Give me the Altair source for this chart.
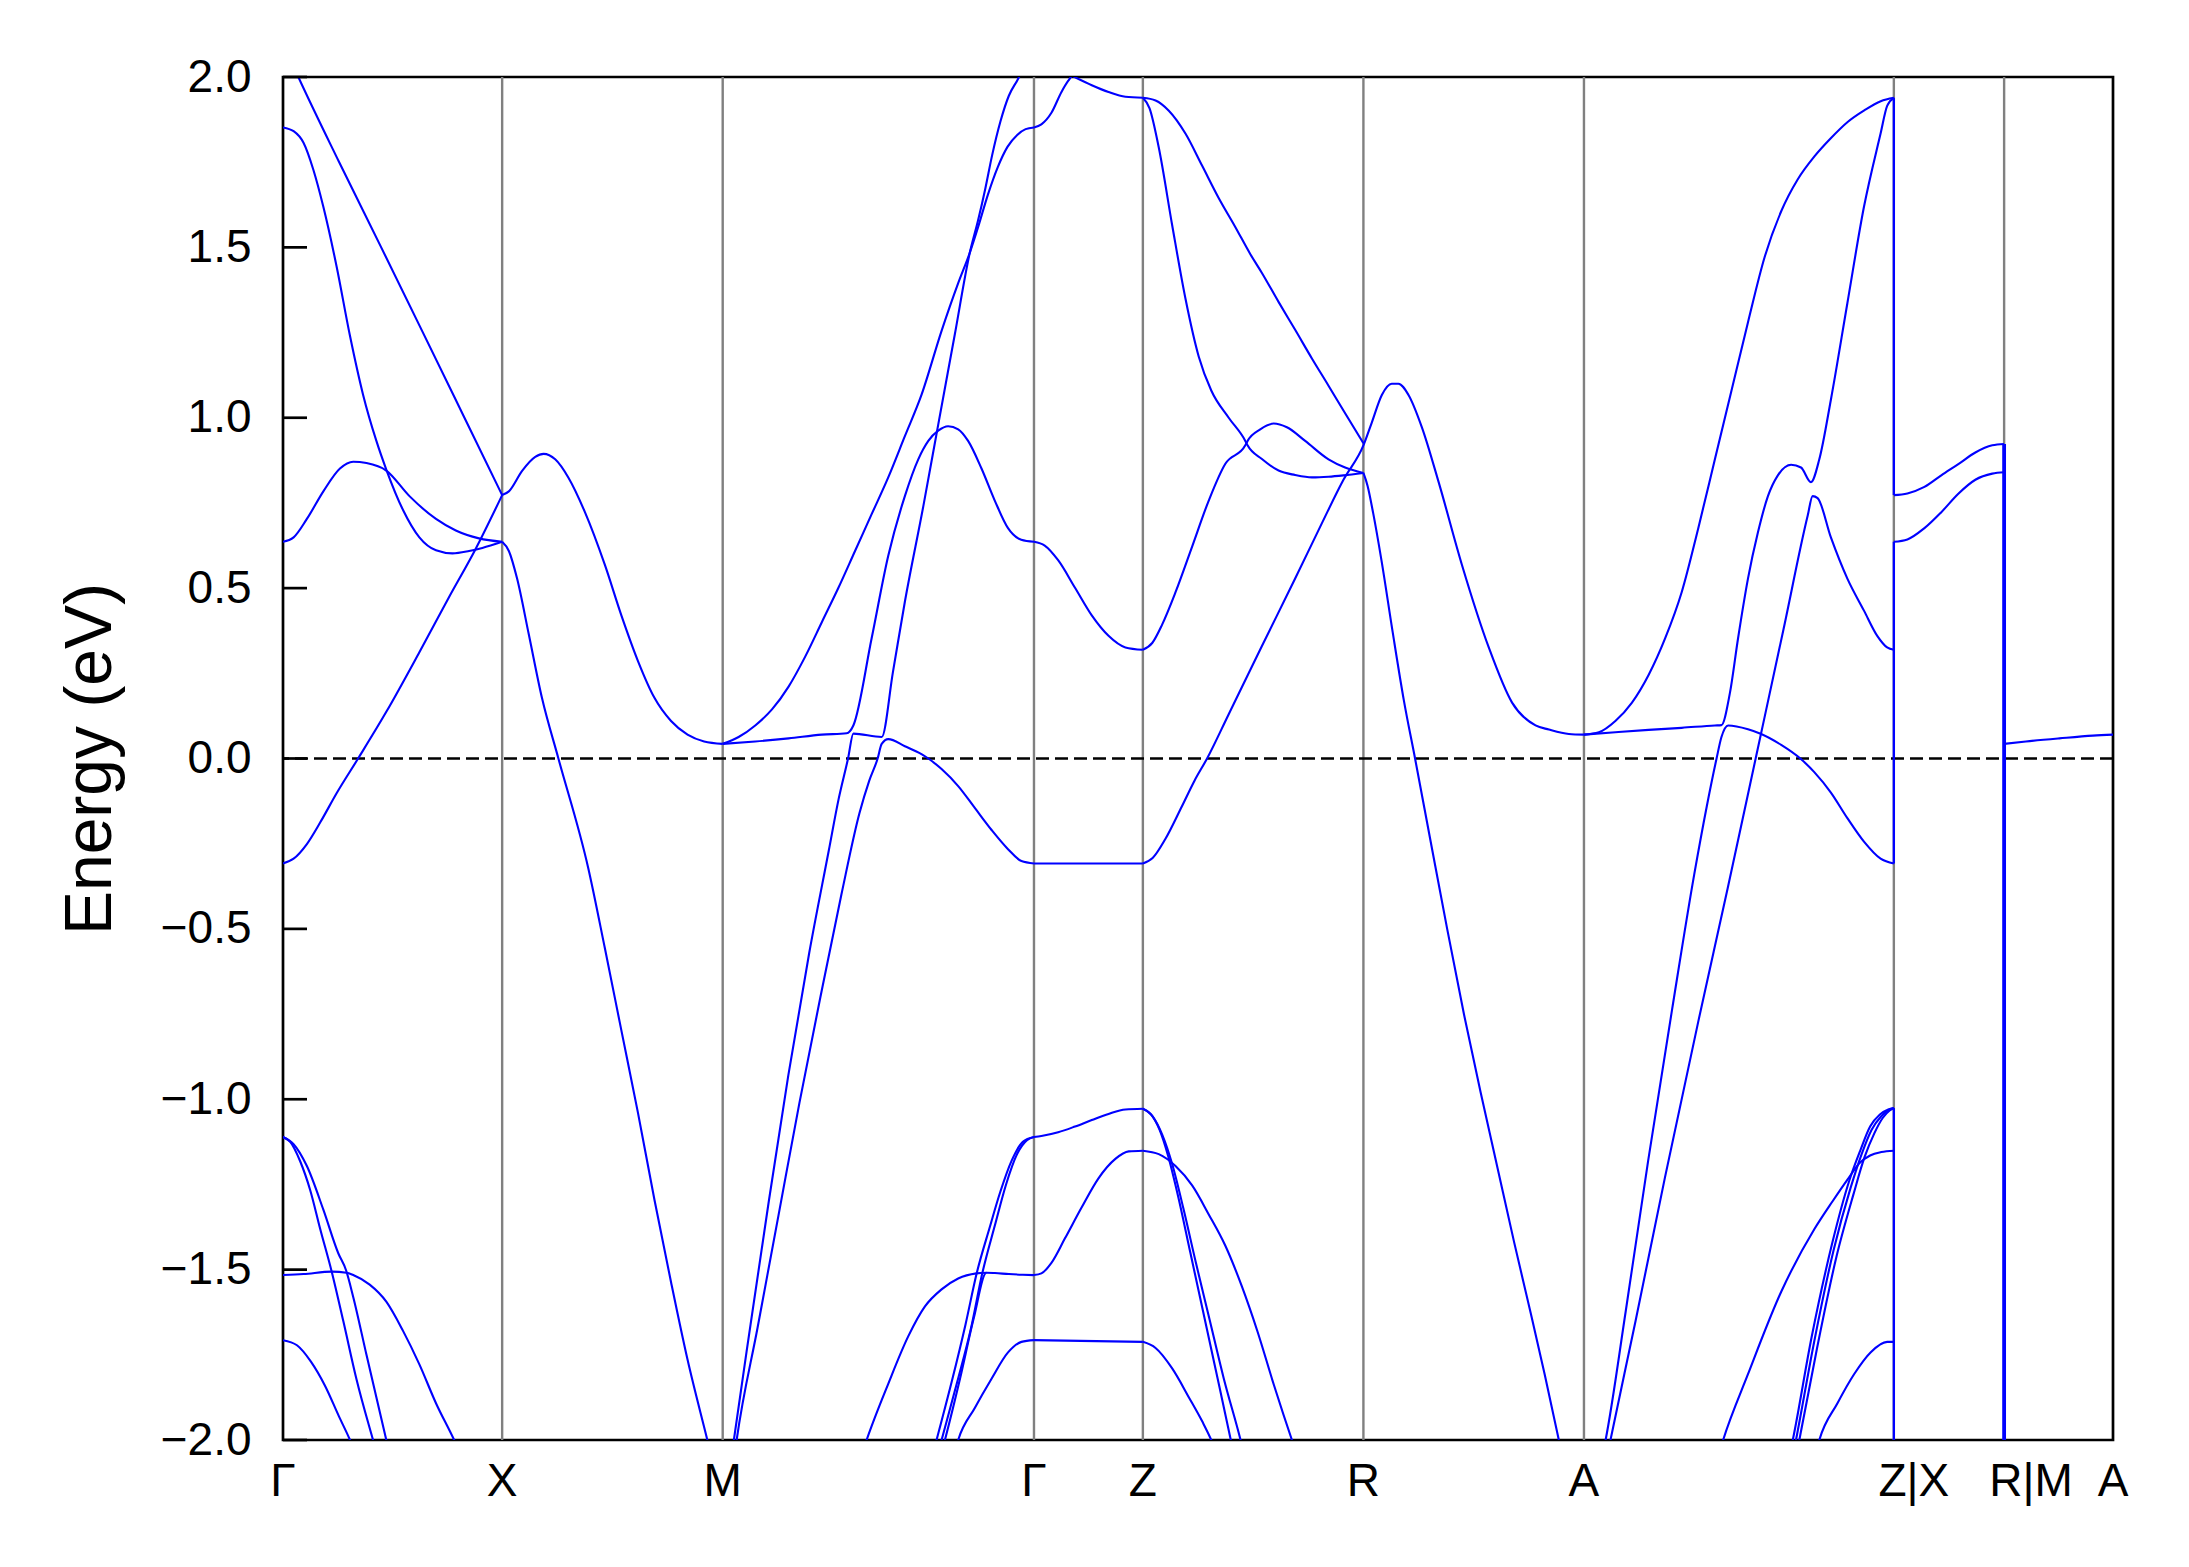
import altair as alt
import pandas as pd

# ---------------- path / axis values ----------------
sym_k = [0, 157, 315, 538, 616, 774, 932, 1154, 1233, 1311]
sym_lab = ["Γ", "X", "M", "Γ", "Z", "R", "A", "Z|X", "R|M", "A"]
y_ticks = [-2.0, -1.5, -1.0, -0.5, 0.0, 0.5, 1.0, 1.5, 2.0]
e_fermi = [0.0]

# ---------------- bands (k, E in eV) ----------------
# Γ -> X
gx_a = [(0, 2.10), (11, 2.0), (40, 1.752), (70, 1.503), (100, 1.252), (130, 1.0), (157, 0.773)]
gx_b = [(0, 1.852), (7.6, 1.841), (14.7, 1.807), (21.8, 1.727), (28.9, 1.619), (38.4, 1.444), (47.9, 1.242),
        (57.4, 1.067), (66.9, 0.932), (74, 0.848), (85.9, 0.730), (97.7, 0.649), (109.6, 0.611), (121.4, 0.602),
        (133.3, 0.609), (142.8, 0.618), (157, 0.636)]
gx_c = [(0, 0.636), (7.6, 0.649), (17.1, 0.703), (28.9, 0.784), (40.8, 0.851), (50.3, 0.871), (59.8, 0.867),
        (74, 0.845), (90.6, 0.770), (109.6, 0.703), (123.8, 0.669), (140.4, 0.646), (157, 0.636)]
gx_d = [(0, -0.308), (7.6, -0.294), (17.1, -0.251), (26.6, -0.188), (38.4, -0.102), (53.8, 0.0), (74, 0.137),
        (97.7, 0.312), (119, 0.474), (138, 0.615), (157, 0.773)]
gx_e = [(0, -1.111), (5.2, -1.125), (12.3, -1.182), (19.5, -1.267), (26.6, -1.38), (34.9, -1.506), (43.2, -1.651),
        (52.6, -1.821), (64.5, -2.0), (70, -2.08)]
gx_f = [(0, -1.111), (7.6, -1.132), (17.1, -1.196), (28.9, -1.324), (39.6, -1.452), (45.1, -1.501), (50.3, -1.58),
        (59.8, -1.75), (74.0, -2.0), (78, -2.07)]
gx_g = [(0, -1.516), (14.7, -1.513), (34.9, -1.506), (45.5, -1.509), (50.3, -1.516), (62.1, -1.544), (74.0, -1.594),
        (85.9, -1.679), (97.7, -1.778), (109.6, -1.892), (122.6, -2.0), (127, -2.04)]
gx_h = [(0, -1.707), (10, -1.722), (20, -1.77), (30, -1.84), (40, -1.93), (48, -2.0), (52, -2.04)]
# X -> M
xm_a = [(157, 0.773), (161.8, 0.784), (171.3, 0.844), (180.7, 0.885), (186.7, 0.894), (195, 0.878), (204.5, 0.824),
        (216.3, 0.723), (230.6, 0.568), (242.4, 0.420), (254.3, 0.286), (266.1, 0.178), (278, 0.110), (289.8, 0.070),
        (301.7, 0.050), (315, 0.043)]
xm_b = [(157, 0.636), (161.8, 0.609), (167.7, 0.528), (176, 0.366), (185.5, 0.178), (197.3, 0.0), (218.7, -0.322),
        (230.6, -0.557), (242.4, -0.798), (254.3, -1.040), (266.1, -1.295), (278, -1.537), (289.8, -1.764),
        (304, -2.0), (307, -2.05)]
# M -> Γ
mg_a = [(315, 0.043), (326.4, 0.063), (338.3, 0.097), (350.3, 0.144), (362.2, 0.211), (374.1, 0.299), (386, 0.400),
        (397.9, 0.501), (409.8, 0.609), (421.7, 0.717), (433.6, 0.825), (445.5, 0.946), (457.4, 1.067),
        (471.8, 1.255), (483.7, 1.395), (492, 1.484), (498, 1.56), (505, 1.655), (512, 1.735), (519, 1.795),
        (526, 1.83), (532, 1.847), (538, 1.852)]
mg_b = [(315, 0.043), (338.3, 0.050), (362.2, 0.059), (386, 0.070), (403.8, 0.074), (408.6, 0.097), (421.7, 0.353),
        (433.6, 0.595), (445.5, 0.770), (455.1, 0.878), (462.3, 0.932), (469.4, 0.962), (476.5, 0.975),
        (483.7, 0.966), (490.8, 0.932), (500.4, 0.851), (509.9, 0.757), (519.4, 0.676), (528.9, 0.642), (538, 0.636)]
mg_c = [(321, -2.06), (323, -2.0), (335, -1.66), (348, -1.30), (362, -0.93), (377, -0.57), (391, -0.27), (398, -0.12),
        (404.8, 0.0), (408.6, 0.073), (428.9, 0.063), (437, 0.255), (445.5, 0.46), (458.7, 0.74), (469.4, 0.98),
        (481.3, 1.245), (492, 1.484), (498, 1.58), (503, 1.67), (508, 1.77), (514, 1.87), (520, 1.945), (526, 1.99),
        (530, 2.02), (534, 2.05)]
mg_d = [(323, -2.06), (325, -2.0), (340, -1.67), (355, -1.34), (370, -1.01), (385, -0.70), (400, -0.40), (413, -0.16),
        (420, -0.065), (426, 0.0), (428.9, 0.043), (433.6, 0.057), (445.5, 0.036), (457.4, 0.013), (462.3, 0.0),
        (471.8, -0.031), (483.7, -0.081), (495.6, -0.145), (507.5, -0.209), (519.4, -0.266), (529, -0.301),
        (538, -0.308)]
mg_e = [(414, -2.05), (418.1, -2.0), (433.6, -1.835), (447.9, -1.696), (459.9, -1.608), (471.8, -1.558),
        (483.7, -1.526), (496.8, -1.511), (503.9, -1.509)]
mg_f = [(465, -2.05), (468.2, -2.0), (479, -1.83), (489, -1.66), (497, -1.51), (506, -1.38), (514, -1.27),
        (522, -1.18), (530, -1.125), (538, -1.111)]
mg_g = [(468.5, -2.05), (471.8, -2.0), (483, -1.83), (493, -1.67), (501, -1.51), (510, -1.37), (518, -1.25),
        (526, -1.16), (533, -1.12), (538, -1.111)]
mg_h = [(471, -2.05), (474.2, -2.0), (485, -1.82), (495, -1.64), (503.9, -1.509), (510, -1.510), (520, -1.513),
        (530, -1.515), (538, -1.516)]
mg_i = [(481, -2.04), (483.7, -2.0), (495.6, -1.906), (507.5, -1.821), (519.4, -1.743), (529, -1.712), (538, -1.707)]
# Γ -> Z
gz_a = [(538, 1.852), (543.3, 1.861), (550.5, 1.895), (557.7, 1.956), (562.6, 1.989), (565.5, 2.003), (567, 2.0),
        (579.4, 1.976), (591.4, 1.956), (603.5, 1.942), (616, 1.939)]
gz_b = [(538, 0.636), (545.7, 0.625), (555.3, 0.582), (567.4, 0.501), (579.4, 0.420), (591.4, 0.360),
        (603.5, 0.326), (616, 0.319)]
gz_c = [(538, -0.308), (616, -0.308)]
gz_d = [(538, -1.111), (543.3, -1.108), (555.3, -1.097), (567.4, -1.080), (579.4, -1.061), (591.4, -1.043),
        (603.5, -1.030), (616, -1.028)]
gz_e = [(538, -1.516), (543.3, -1.511), (550.5, -1.480), (560.1, -1.409), (572.2, -1.317), (584.2, -1.232),
        (596.3, -1.175), (605.9, -1.153), (616, -1.151)]
gz_f = [(538, -1.707), (616, -1.712)]
# Z -> R
zr_a = [(616, 1.939), (625.1, 1.931), (634.6, 1.901), (646.5, 1.834), (658.4, 1.740), (670.3, 1.645), (682.2, 1.56),
        (693, 1.48), (701.3, 1.425), (713.2, 1.34), (725.1, 1.258), (737.1, 1.174), (749, 1.094), (760.9, 1.013),
        (774, 0.925)]
zr_b = [(616, 1.939), (620.8, 1.908), (627.4, 1.793), (637, 1.565), (646.5, 1.350), (656, 1.18), (665, 1.08),
        (677.5, 1.0), (689.4, 0.932), (691, 0.919), (701.3, 0.879), (713.2, 0.845), (725.1, 0.832), (737.1, 0.825),
        (749, 0.827), (759.7, 0.831), (774, 0.838)]
zr_c = [(616, 0.319), (622.7, 0.339), (629.8, 0.393), (639.4, 0.488), (651.3, 0.622), (663.2, 0.757), (675.1, 0.865),
        (689.4, 0.919), (691, 0.932), (700.1, 0.966), (709.7, 0.983), (719.2, 0.972), (732.3, 0.932), (749, 0.878),
        (760.9, 0.854), (774, 0.838)]
zr_d = [(616, -0.308), (623, -0.292), (632, -0.237), (644, -0.14), (653, -0.065), (662, 0.0), (677.5, 0.13),
        (701.3, 0.33), (725.1, 0.528), (744.2, 0.69), (759.7, 0.818), (774, 0.919), (780, 0.986), (787.2, 1.067),
        (794.3, 1.100), (799.1, 1.100), (806.3, 1.067), (815.9, 0.972), (827.9, 0.811), (844.6, 0.568),
        (863.8, 0.326), (880.5, 0.164), (897.3, 0.097), (906.9, 0.085), (921.2, 0.072), (932, 0.070)]
zr_e = [(616, -1.028), (622, -1.045), (628, -1.09), (634, -1.165), (641, -1.28), (650, -1.45), (659, -1.62),
        (668, -1.79), (679, -2.0), (682, -2.06)]
zr_f = [(616, -1.028), (623, -1.05), (630, -1.105), (637, -1.19), (645, -1.32), (654, -1.48), (664, -1.65),
        (674, -1.82), (686, -2.0), (689, -2.05)]
zr_g = [(616, -1.151), (627.4, -1.161), (639.4, -1.196), (651.3, -1.253), (663.2, -1.338), (675.1, -1.43),
        (687, -1.55), (698, -1.68), (710, -1.84), (722.8, -2.0), (727, -2.05)]
zr_h = [(616, -1.712), (625.1, -1.73), (637, -1.79), (649, -1.875), (658.6, -1.946), (665, -2.0), (668, -2.03)]
# R -> A
ra_a = [(774, 0.838), (777, 0.80), (781, 0.72), (787, 0.58), (795, 0.37), (803, 0.17), (811, 0.0), (822, -0.24),
        (834, -0.50), (846, -0.75), (858, -0.98), (870, -1.2), (882, -1.42), (894, -1.63), (904, -1.81),
        (914, -2.0), (917, -2.06)]
# A -> Z
az_a = [(932, 0.070), (942.7, 0.077), (954.5, 0.110), (966.4, 0.164), (978.3, 0.245), (990.2, 0.353), (1002, 0.488),
        (1013.9, 0.676), (1025.8, 0.878), (1037.7, 1.080), (1049.6, 1.282), (1061.4, 1.471), (1073.3, 1.606),
        (1085.2, 1.700), (1097.1, 1.767), (1109, 1.821), (1120.9, 1.868), (1132.8, 1.902), (1144.6, 1.929),
        (1154, 1.939)]
az_b = [(932, 0.070), (954.5, 0.077), (978.3, 0.084), (1002, 0.090), (1025.8, 0.097), (1030.5, 0.098),
        (1036.5, 0.191), (1042.4, 0.353), (1049.5, 0.528), (1056.6, 0.663), (1063.8, 0.770), (1070.9, 0.831),
        (1080.4, 0.862), (1087.5, 0.854), (1094.6, 0.811), (1100.6, 0.878), (1108.9, 1.053), (1120.7, 1.336),
        (1132.6, 1.619), (1144.5, 1.834), (1149.2, 1.915), (1154, 1.939)]
az_c = [(945, -2.05), (947.5, -2.0), (962, -1.62), (978, -1.18), (995, -0.74), (1011, -0.34), (1020, -0.14),
        (1027, 0.0), (1030.5, 0.063), (1035.3, 0.097), (1049.5, 0.086), (1059, 0.072), (1073.3, 0.04), (1087, 0.0),
        (1097, -0.04), (1108.9, -0.10), (1120.7, -0.175), (1132.6, -0.244), (1144.5, -0.294), (1154, -0.308)]
az_d = [(948.5, -2.05), (951, -2.0), (969, -1.65), (990, -1.23), (1014, -0.77), (1035, -0.38), (1055, 0.0),
        (1075, 0.38), (1092.3, 0.713), (1095.8, 0.77), (1099.4, 0.764), (1108.9, 0.649), (1120.7, 0.528),
        (1132.6, 0.434), (1142.1, 0.36), (1149.2, 0.326), (1154, 0.319)]
az_e = [(1028, -2.05), (1031.7, -2.0), (1049.5, -1.807), (1073.3, -1.565), (1097.1, -1.381), (1110, -1.30),
        (1120.9, -1.235), (1130, -1.185), (1137, -1.165), (1145, -1.155), (1154, -1.151)]
az_f = [(1079, -2.05), (1081.6, -2.0), (1095, -1.70), (1110, -1.42), (1122, -1.24), (1130, -1.15), (1137, -1.08),
        (1144, -1.045), (1150, -1.03), (1154, -1.026)]
az_g = [(1081.5, -2.05), (1083.9, -2.0), (1097, -1.71), (1111, -1.44), (1123, -1.26), (1131, -1.16), (1138, -1.09),
        (1145, -1.05), (1150, -1.032), (1154, -1.026)]
az_h = [(1084, -2.05), (1086.3, -2.0), (1099, -1.73), (1113, -1.46), (1125, -1.28), (1133, -1.17), (1140, -1.10),
        (1146, -1.055), (1151, -1.033), (1154, -1.026)]
az_i = [(1098, -2.04), (1100.6, -2.0), (1113.6, -1.892), (1125.5, -1.807), (1137.3, -1.743), (1149.2, -1.712),
        (1154, -1.712)]
# X -> R
xr_a = [(1154, 0.773), (1163.7, 0.778), (1175.9, 0.797), (1188, 0.831), (1200.2, 0.864), (1212.4, 0.898),
        (1224.5, 0.919), (1233, 0.923)]
xr_b = [(1154, 0.636), (1163.7, 0.643), (1175.9, 0.676), (1188, 0.723), (1200.2, 0.777), (1212.4, 0.818),
        (1224.5, 0.836), (1233, 0.840)]
# M -> A
ma_a = [(1233, 0.043), (1248.6, 0.050), (1272.6, 0.059), (1296.6, 0.067), (1311, 0.070)]
# discontinuities at Z|X and R|M (vertical joins)
jz_a = [(1154, 1.939), (1154, 0.773)]
jz_b = [(1154, 0.636), (1154, -0.308)]
jz_c = [(1154, -1.026), (1154, -2.1)]
jr_a = [(1233, 0.923), (1233, -2.1)]

band_paths = {
    "gx_a": gx_a, "gx_b": gx_b, "gx_c": gx_c, "gx_d": gx_d, "gx_e": gx_e, "gx_f": gx_f, "gx_g": gx_g, "gx_h": gx_h,
    "xm_a": xm_a, "xm_b": xm_b,
    "mg_a": mg_a, "mg_b": mg_b, "mg_c": mg_c, "mg_d": mg_d, "mg_e": mg_e, "mg_f": mg_f, "mg_g": mg_g, "mg_h": mg_h,
    "mg_i": mg_i,
    "gz_a": gz_a, "gz_b": gz_b, "gz_c": gz_c, "gz_d": gz_d, "gz_e": gz_e, "gz_f": gz_f,
    "zr_a": zr_a, "zr_b": zr_b, "zr_c": zr_c, "zr_d": zr_d, "zr_e": zr_e, "zr_f": zr_f, "zr_g": zr_g, "zr_h": zr_h,
    "ra_a": ra_a,
    "az_a": az_a, "az_b": az_b, "az_c": az_c, "az_d": az_d, "az_e": az_e, "az_f": az_f, "az_g": az_g, "az_h": az_h,
    "az_i": az_i,
    "xr_a": xr_a, "xr_b": xr_b, "ma_a": ma_a,
}
join_paths = {"jz_a": jz_a, "jz_b": jz_b, "jz_c": jz_c}
thick_paths = {"jr_a": jr_a}


def to_df(paths):
    rows = []
    for name, pts in paths.items():
        for i, (k, e) in enumerate(pts):
            rows.append({"band": name, "k": k, "E": e, "i": i})
    return pd.DataFrame(rows)


bands_df = to_df(band_paths)
join_df = to_df(join_paths)
thick_df = to_df(thick_paths)

# ---------------- chart ----------------
W, H = 1830, 1363
FONT = "Liberation Sans"
BLUE = "#0000ff"

xs = alt.Scale(domain=[sym_k[0], sym_k[-1]], nice=False, zero=False)
ys = alt.Scale(domain=[y_ticks[0], y_ticks[-1]], nice=False, zero=False)

yaxis = alt.Axis(
    values=y_ticks,
    labelExpr="replace(format(datum.value, '.1f'), '-', '\u2212')",
    ticks=False, domain=False, grid=False,
    labelPadding=32, labelFont=FONT, labelFontSize=46, labelColor="black",
    labelFlush=False, labelOverlap=False,
    title="Energy (eV)", titleFont=FONT, titleFontSize=66, titleFontWeight="normal",
    titleColor="black", titleAngle=270, titleX=-173, titleY=H / 2,
    titleBaseline="alphabetic", titleAlign="center",
)
X = alt.X("k:Q", scale=xs, axis=None)
Y = alt.Y("E:Q", scale=ys, axis=yaxis)

vlines = alt.Chart(pd.DataFrame({"k": sym_k[1:-1]})).mark_rule(
    color="#808080", strokeWidth=2.4).encode(x=X)

fermi = alt.Chart(pd.DataFrame({"E": e_fermi})).mark_rule(
    color="black", strokeWidth=2.6, strokeDash=[13, 6]).encode(y=Y)

bands = alt.Chart(bands_df).mark_line(
    color=BLUE, strokeWidth=2.1, clip=True, interpolate="monotone").encode(
    x=X, y=Y, detail="band:N", order=alt.Order("i:Q"))

joins = alt.Chart(join_df).mark_line(color=BLUE, strokeWidth=2.3, clip=True).encode(
    x=X, y=Y, detail="band:N", order=alt.Order("i:Q"))

thick = alt.Chart(thick_df).mark_line(color=BLUE, strokeWidth=3.8, clip=True).encode(
    x=X, y=Y, detail="band:N", order=alt.Order("i:Q"))

ticks = alt.Chart(pd.DataFrame({"E": y_ticks})).mark_rule(color="black", strokeWidth=2.7).encode(
    y=Y, x=alt.value(0), x2=alt.value(24))

lab_df = pd.DataFrame({"k": sym_k, "lab": sym_lab})


def xlabels(names, dx):
    return alt.Chart(lab_df).transform_filter(
        alt.FieldOneOfPredicate(field="lab", oneOf=names)
    ).mark_text(font=FONT, fontSize=46, baseline="alphabetic", align="center", dx=dx, color="black").encode(
        x=X, y=alt.value(H + 56), text="lab:N")


lab_main = xlabels(["Γ", "X", "M", "Z", "R", "A"], 0)
lab_zx = xlabels(["Z|X"], 20)
lab_rm = xlabels(["R|M"], 27)

chart = alt.layer(vlines, fermi, bands, joins, thick, ticks, lab_main, lab_zx, lab_rm).properties(
    width=W, height=H,
    autosize=alt.AutoSizeParams(type="none"),
    padding={"left": 275, "top": 69, "right": 30, "bottom": 90},
    background="white",
).configure_view(stroke="black", strokeWidth=2.7)

chart.save("out.html", embed_options={"renderer": "svg", "actions": False})
